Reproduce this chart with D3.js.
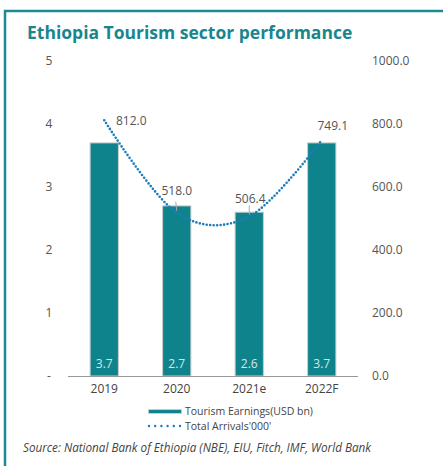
<!doctype HTML>
<html>
<head>
    <style>
        body { margin: 0; background: #fff; }
        text { font-family: "Open Sans", sans-serif; }
    </style>
    <script src="https://d3js.org/d3.v7.min.js"></script>
</head>
<body>
<script>
    var years = ["2019", "2020", "2021e", "2022F"];
    var earnings = [3.7, 2.7, 2.6, 3.7];
    var arrivals = [812.0, 518.0, 506.4, 749.1];
    var leftTicks = [0, 1, 2, 3, 4, 5];
    var rightTicks = [0, 200, 400, 600, 800, 1000];

    var teal = "#0e838c";
    var blue = "#1a7db8";

    var svg = d3.select("body").append("svg")
        .attr("width", 443)
        .attr("height", 466);

    // frame
    svg.append("path")
        .attr("d", "M5,466 V11 H443")
        .attr("fill", "none")
        .attr("stroke", "#1b8b93")
        .attr("stroke-width", 2.5);

    svg.append("text")
        .attr("x", 27)
        .attr("y", 39)
        .attr("font-size", "17.5px")
        .attr("font-weight", "bold")
        .attr("fill", "#17868f")
        .text("Ethiopia Tourism sector performance");

    var x = d3.scaleBand().domain(years).range([68, 358]).paddingInner(0.61).paddingOuter(0.305);
    var yL = d3.scaleLinear().domain([0, 5]).range([376, 61]);
    var yR = d3.scaleLinear().domain([0, 1000]).range([376, 61]);

    // left axis labels
    svg.append("g").selectAll("text")
        .data(leftTicks)
        .enter().append("text")
        .attr("x", 49)
        .attr("y", d => yL(d))
        .attr("dy", "0.35em")
        .attr("text-anchor", "middle")
        .attr("font-size", "12px")
        .attr("fill", "#555")
        .text(d => d === 0 ? "-" : d);

    // right axis labels
    svg.append("g").selectAll("text")
        .data(rightTicks)
        .enter().append("text")
        .attr("x", 372)
        .attr("y", d => yR(d))
        .attr("dy", "0.35em")
        .attr("font-size", "12px")
        .attr("fill", "#555")
        .text(d => d3.format(".1f")(d));

    // bars
    svg.append("g").selectAll("rect")
        .data(earnings)
        .enter().append("rect")
        .attr("x", (d, i) => x(years[i]))
        .attr("y", d => yL(d))
        .attr("width", x.bandwidth())
        .attr("height", d => yL(0) - yL(d))
        .attr("fill", teal)
        .attr("stroke", "#c8cccc")
        .attr("stroke-width", 1);

    svg.append("g").selectAll("text")
        .data(earnings)
        .enter().append("text")
        .attr("x", (d, i) => x(years[i]) + x.bandwidth() / 2)
        .attr("y", 368)
        .attr("text-anchor", "middle")
        .attr("font-size", "12px")
        .attr("fill", "#d6e6e8")
        .text(d => d.toFixed(1));

    // baseline
    svg.append("line")
        .attr("x1", 68).attr("x2", 358)
        .attr("y1", 376.5).attr("y2", 376.5)
        .attr("stroke", "#999");

    // x labels
    svg.append("g").selectAll("text")
        .data(years)
        .enter().append("text")
        .attr("x", d => x(d) + x.bandwidth() / 2)
        .attr("y", 393)
        .attr("text-anchor", "middle")
        .attr("font-size", "12px")
        .attr("fill", "#444")
        .text(d => d);

    // arrivals line
    var line = d3.line()
        .x((d, i) => x(years[i]) + x.bandwidth() / 2)
        .y(d => yR(d))
        .curve(d3.curveCardinal.tension(0));

    svg.append("path")
        .datum(arrivals)
        .attr("d", line)
        .attr("fill", "none")
        .attr("stroke", blue)
        .attr("stroke-width", 2.6)
        .attr("stroke-linecap", "round")
        .attr("stroke-dasharray", "0 3.5");

    // line labels
    var labelDx = [27, 0, 1, 11];
    var labelDy = [1, -22, -18, -14];
    svg.append("g").selectAll("text")
        .data(arrivals)
        .enter().append("text")
        .attr("x", (d, i) => x(years[i]) + x.bandwidth() / 2 + labelDx[i])
        .attr("y", (d, i) => yR(d) + labelDy[i])
        .attr("dy", "0.35em")
        .attr("text-anchor", "middle")
        .attr("font-size", "12px")
        .attr("fill", "#555")
        .text(d => d.toFixed(1));

    // leader ticks for middle labels
    svg.append("g").selectAll("line")
        .data([1, 2])
        .enter().append("line")
        .attr("x1", i => x(years[i]) + x.bandwidth() / 2 - (i === 1 ? 1 : 0))
        .attr("x2", i => x(years[i]) + x.bandwidth() / 2)
        .attr("y1", i => yR(arrivals[i]) - 11)
        .attr("y2", i => yR(arrivals[i]) - 2)
        .attr("stroke", "#aaa");

    // legend
    var lg = svg.append("g");
    lg.append("rect")
        .attr("x", 148.5).attr("y", 409.5)
        .attr("width", 33).attr("height", 4)
        .attr("fill", teal)
        .attr("stroke", "#c8cccc");
    lg.append("text")
        .attr("x", 185).attr("y", 411.5)
        .attr("dy", "0.35em")
        .attr("font-size", "10.5px")
        .attr("fill", "#444")
        .text("Tourism Earnings(USD bn)");
    lg.append("line")
        .attr("x1", 149).attr("x2", 180)
        .attr("y1", 426).attr("y2", 426)
        .attr("stroke", blue)
        .attr("stroke-width", 2.4)
        .attr("stroke-linecap", "round")
        .attr("stroke-dasharray", "0 6.2");
    lg.append("text")
        .attr("x", 185).attr("y", 426)
        .attr("dy", "0.35em")
        .attr("font-size", "10.5px")
        .attr("fill", "#444")
        .text("Total Arrivals'000'");

    svg.append("text")
        .attr("x", 23)
        .attr("y", 452)
        .attr("font-size", "11.7px")
        .attr("font-style", "italic")
        .attr("fill", "#444")
        .text("Source: National Bank of Ethiopia (NBE), EIU, Fitch, IMF, World Bank");
</script>
</body>
</html>
